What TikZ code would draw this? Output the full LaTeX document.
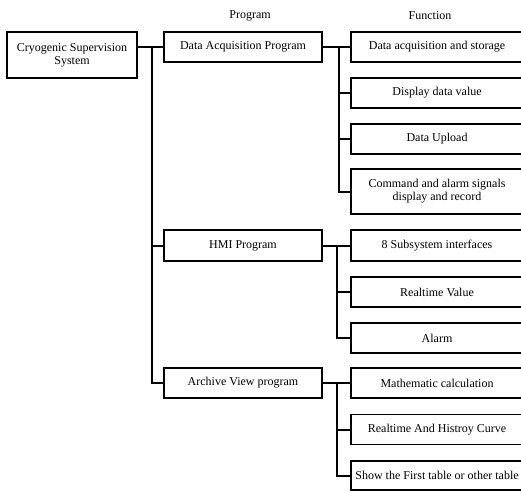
\documentclass[tikz,border=0pt]{standalone}
\usepackage{fontspec}
\setmainfont{Liberation Serif}
\usetikzlibrary{calc}
\begin{document}
\begin{tikzpicture}[x=1pt,y=1pt,
  box/.style={draw,line width=1.5pt,inner sep=0pt,align=center,
    font=\fontsize{12}{13}\selectfont},
  pbox/.style={box,minimum width=158pt,minimum height=30pt},
  fbox/.style={box,minimum width=172pt,minimum height=30pt},
  head/.style={font=\fontsize{12}{13}\selectfont},
  conn/.style={line width=2pt}]
\useasboundingbox (0,0) rectangle (521,-491);
\clip (0,0) rectangle (521,-491);
\fill[white] (0,0) rectangle (521,-491);
% headers
\node[head] (hp) at (250,-16) {Program};
\node[head] (hf) at (430,-16) {Function};
% root
\node[box,minimum width=130pt,minimum height=46pt] (cs) at (72,-55) {Cryogenic Supervision\\System};
% programs
\node[pbox] (dap) at (243,-47) {Data Acquisition Program};
\node[pbox,minimum height=31pt] (hmi) at (243,-245.5) {HMI Program};
\node[pbox] (avp) at (243,-383) {Archive View program};
% functions
\node[fbox] (f1) at (437,-47) {Data acquisition and storage};
\node[fbox] (f2) at (437,-93) {Display data value};
\node[fbox] (f3) at (437,-139) {Data Upload};
\node[fbox,minimum height=45pt] (f4) at (437,-191.5) {Command and alarm signals\\display and record};
\node[fbox,minimum height=31pt] (h1) at (437,-245.5) {8 Subsystem interfaces};
\node[fbox] (h2) at (437,-292) {Realtime Value};
\node[fbox] (h3) at (437,-338) {Alarm};
\node[fbox] (a1) at (437,-383) {Mathematic calculation};
\node[fbox] (a2) at (437,-429.5) {Realtime And Histroy Curve};
\node[fbox,minimum height=29pt] (a3) at (437,-475.5) {Show the First table or other table};
% junctions
\coordinate (j0) at ($(cs.east |- dap.west)!0.55!(dap.west)$);
\coordinate (j1) at ($(dap.east)!0.58!(f1.west)$);
\coordinate (j2) at ($(hmi.east)!0.5!(h1.west)$);
\coordinate (j3) at ($(avp.east)!0.5!(a1.west)$);
% connectors
\draw[conn] (cs.east |- dap.west) -- (dap.west);
\draw[conn] (j0) |- (hmi.west);
\draw[conn] (j0) |- (avp.west);
\draw[conn] (dap.east) -- (f1.west);
\draw[conn] (j1) |- (f2.west);
\draw[conn] (j1) |- (f3.west);
\draw[conn] (j1) |- (f4.west);
\draw[conn] (hmi.east) -- (h1.west);
\draw[conn] (j2) |- (h2.west);
\draw[conn] (j2) |- (h3.west);
\draw[conn] (avp.east) -- (a1.west);
\draw[conn] (j3) |- (a2.west);
\draw[conn] (j3) |- (a3.west);
\end{tikzpicture}
\end{document}
